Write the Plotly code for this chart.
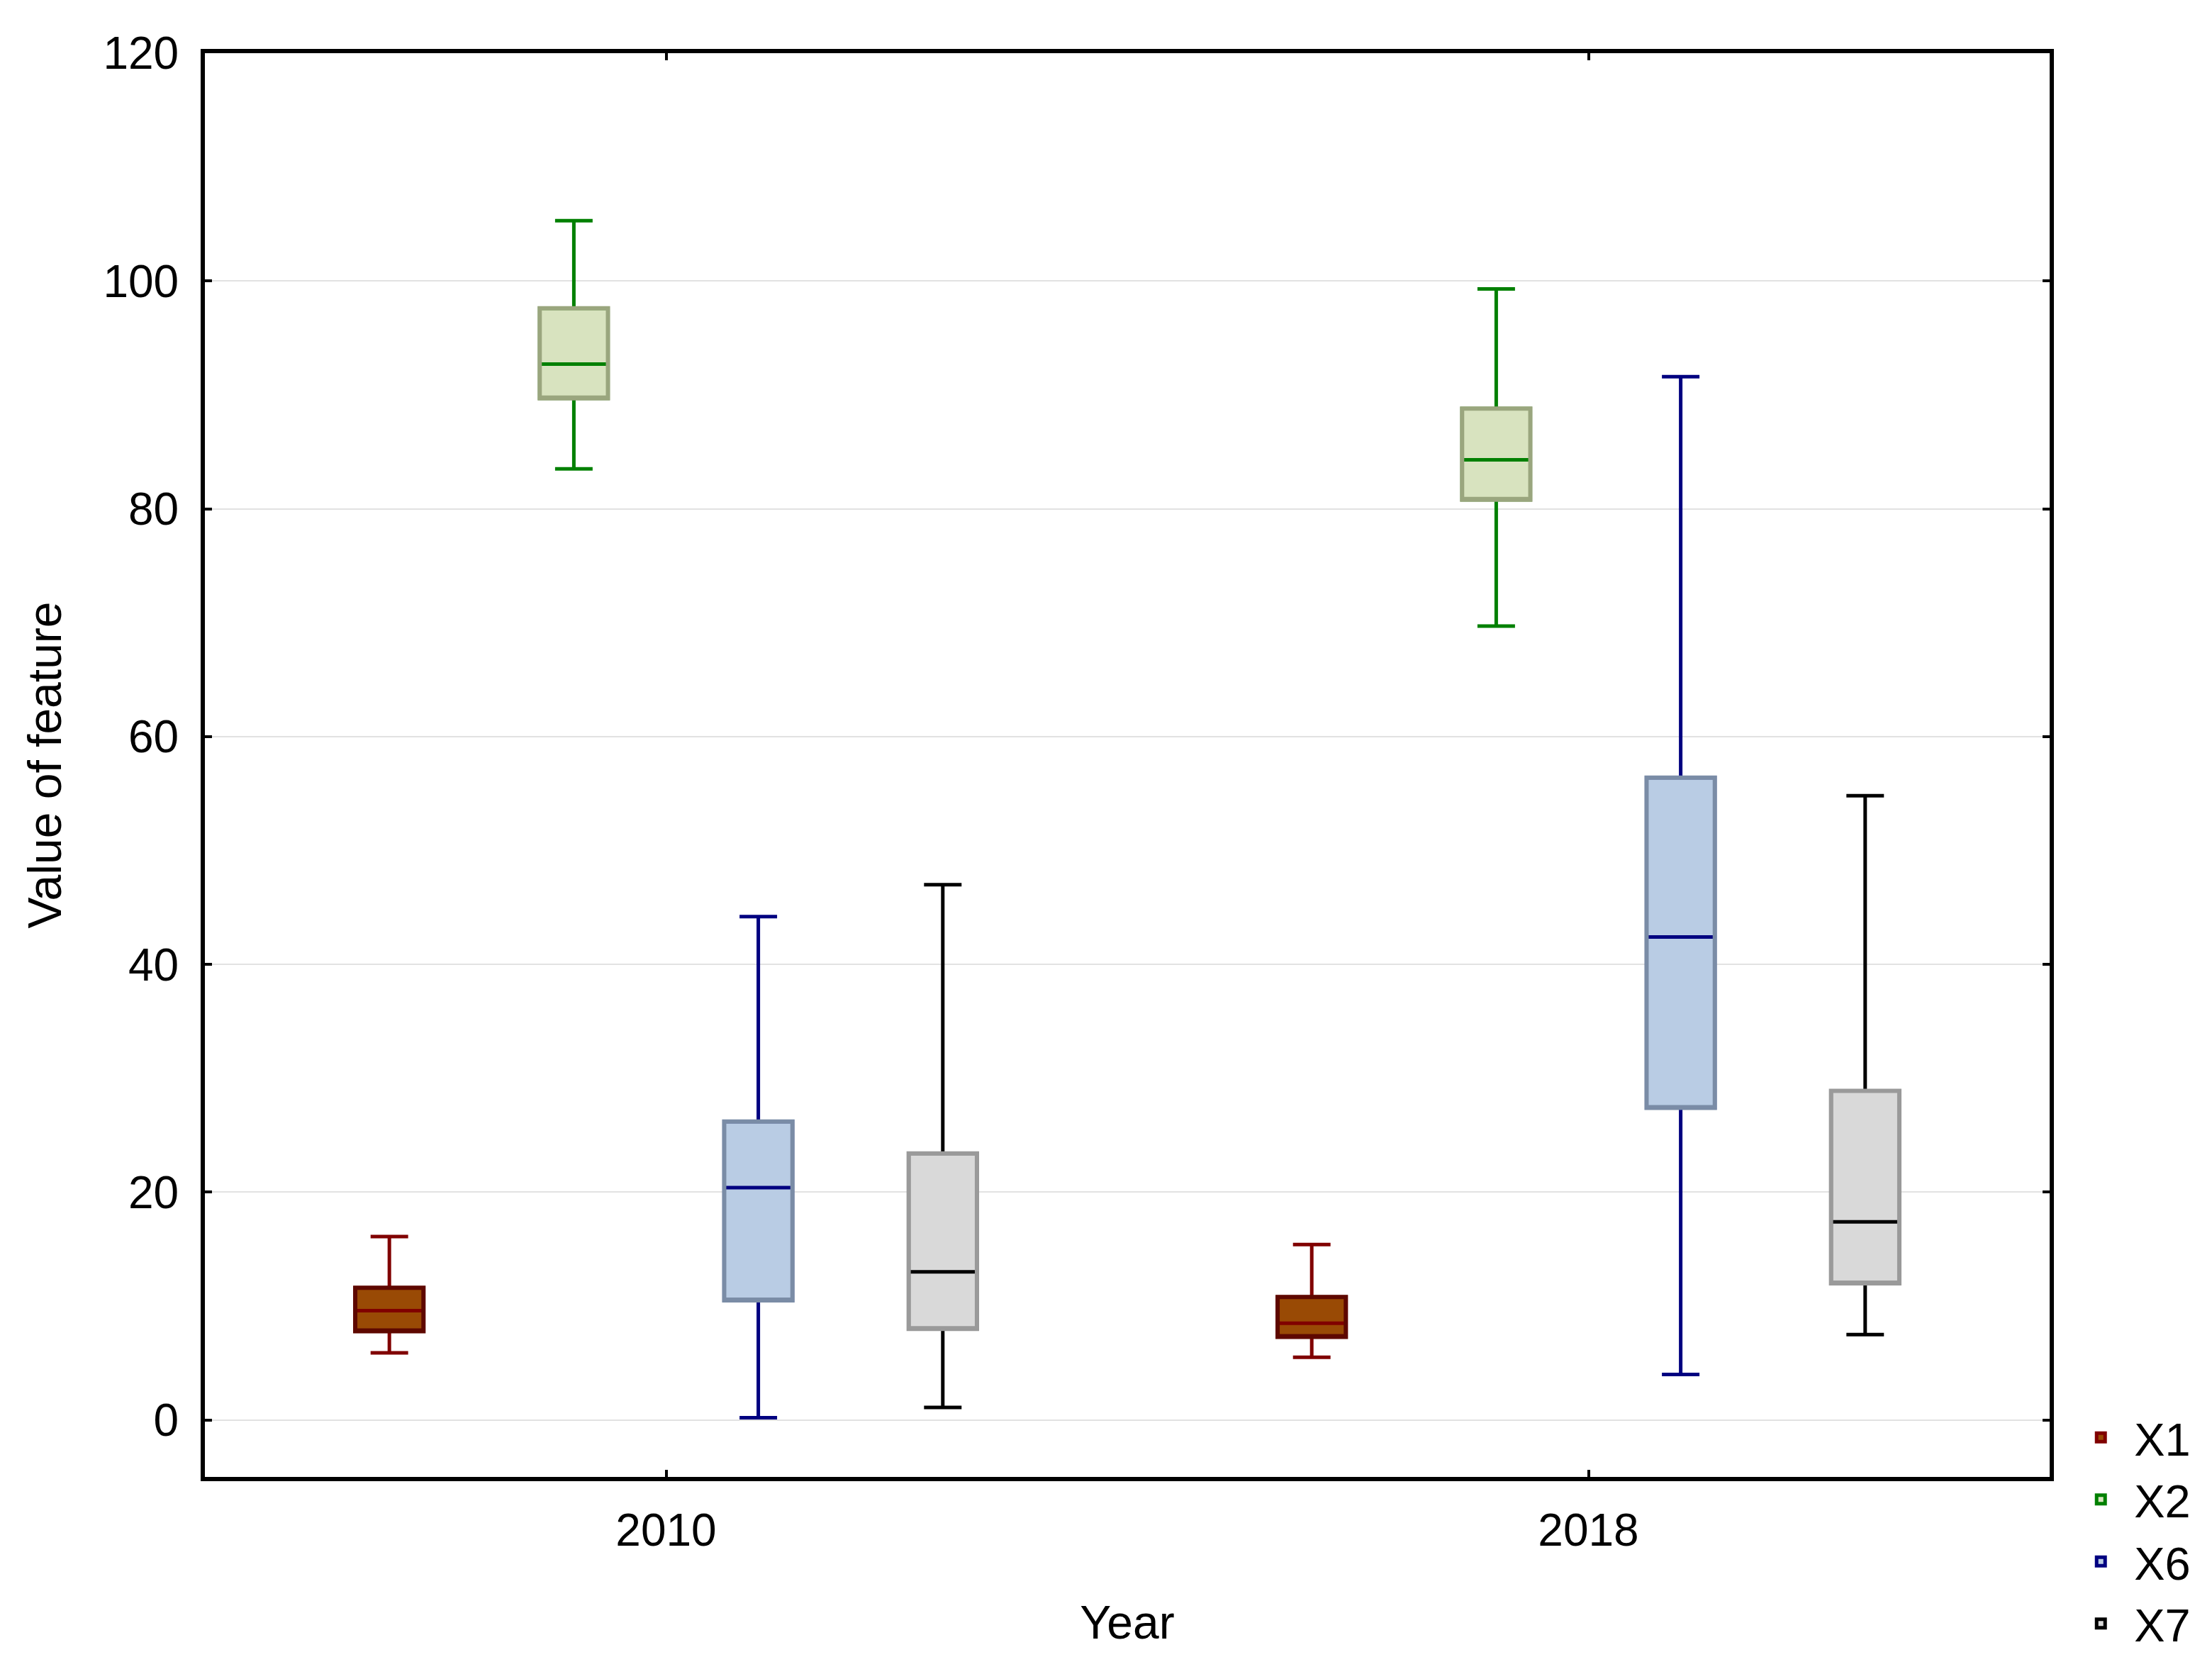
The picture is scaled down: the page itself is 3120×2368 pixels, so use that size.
import plotly.graph_objects as go

years = ["2010", "2018"]
series = ["X1", "X2", "X6", "X7"]

x1_lower = [5.9, 5.5]
x1_q1 = [7.8, 7.3]
x1_median = [9.6, 8.5]
x1_q3 = [11.6, 10.8]
x1_upper = [16.1, 15.4]

x2_lower = [83.5, 69.7]
x2_q1 = [89.7, 80.8]
x2_median = [92.7, 84.3]
x2_q3 = [97.6, 88.8]
x2_upper = [105.3, 99.3]

x6_lower = [0.2, 4.0]
x6_q1 = [10.5, 27.4]
x6_median = [20.4, 42.4]
x6_q3 = [26.2, 56.4]
x6_upper = [44.2, 91.6]

x7_lower = [1.1, 7.5]
x7_q1 = [8.0, 12.0]
x7_median = [13.0, 17.4]
x7_q3 = [23.4, 28.9]
x7_upper = [47.0, 54.8]

y_ticks = [0, 20, 40, 60, 80, 100, 120]

stats = {
    "X1": (x1_lower, x1_q1, x1_median, x1_q3, x1_upper),
    "X2": (x2_lower, x2_q1, x2_median, x2_q3, x2_upper),
    "X6": (x6_lower, x6_q1, x6_median, x6_q3, x6_upper),
    "X7": (x7_lower, x7_q1, x7_median, x7_q3, x7_upper),
}

# fill, box outline, whisker/median colour
styles = {
    "X1": ("#994a05", "#5e0800", "#800000"),
    "X2": ("#d8e3bf", "#9aa67e", "#008000"),
    "X6": ("#b9cce4", "#7a8ca6", "#000080"),
    "X7": ("#d9d9d9", "#9a9a9a", "#000000"),
}

FONT = "Liberation Sans, Arial, sans-serif"
fig = go.Figure()

for name in series:
    lo, q1, med, q3, up = stats[name]
    fill, outline, whisk = styles[name]
    # full box with whiskers and median in whisker colour
    fig.add_trace(go.Box(
        name=name, x=years, q1=q1, median=med, q3=q3,
        lowerfence=lo, upperfence=up,
        offsetgroup=name, showlegend=True,
        fillcolor=fill, line=dict(color=whisk, width=5),
        whiskerwidth=0.55, boxpoints=False, hoverinfo="skip",
    ))
    # box outline overlay in muted colour
    fig.add_trace(go.Box(
        name=name, x=years, q1=q1, median=q1, q3=q3,
        lowerfence=q1, upperfence=q3,
        offsetgroup=name, showlegend=False,
        fillcolor="rgba(0,0,0,0)", line=dict(color=outline, width=6),
        whiskerwidth=0, boxpoints=False, hoverinfo="skip",
    ))

fig.update_layout(
    width=3120, height=2368,
    margin=dict(l=281, r=237, t=67, b=293, pad=0),
    paper_bgcolor="white", plot_bgcolor="white",
    boxmode="group", boxgap=0.2, boxgroupgap=0.63,
    font=dict(family=FONT, size=66, color="black"),
    legend=dict(
        x=1.0097, y=0.052, xanchor="left", yanchor="top",
        font=dict(family=FONT, size=65, color="black"),
        bgcolor="rgba(0,0,0,0)", tracegroupgap=0, itemwidth=84,
    ),
    xaxis=dict(
        type="category", range=[-0.5, 1.5],
        showline=True, linecolor="black", linewidth=6, mirror="ticks",
        ticks="inside", ticklen=10, tickwidth=4, tickcolor="black",
        showgrid=False, zeroline=False,
        tickfont=dict(family=FONT, size=64),
        ticklabelstandoff=14,
        title=dict(text="Year", font=dict(family=FONT, size=66), standoff=74),
    ),
    yaxis=dict(
        range=[-5, 120], tickvals=y_ticks,
        showline=True, linecolor="black", linewidth=6, mirror="ticks",
        ticks="inside", ticklen=10, tickwidth=4, tickcolor="black",
        showgrid=True, gridcolor="#e2e2e2", gridwidth=2, zeroline=False,
        tickfont=dict(family=FONT, size=64),
        ticklabelstandoff=18,
        title=dict(text="Value of feature", font=dict(family=FONT, size=66), standoff=39),
    ),
)

fig.write_html("out.html")
